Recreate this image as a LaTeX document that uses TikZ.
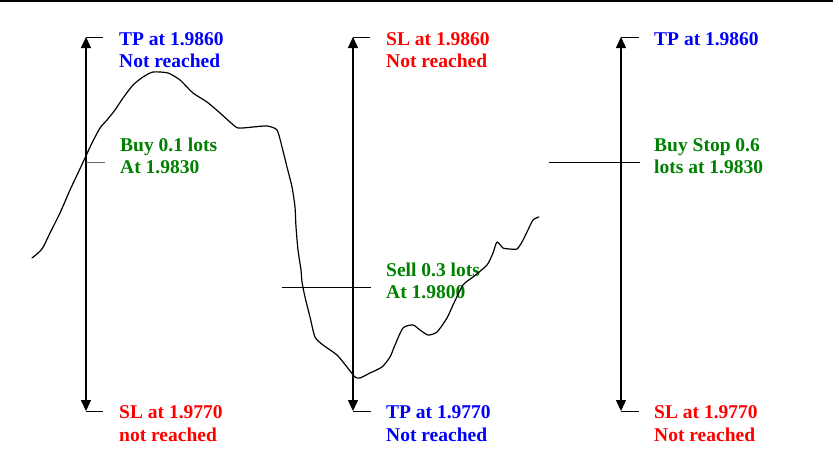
\documentclass[tikz,border=0pt]{standalone}
\usepackage{fontspec}
\setmainfont{Liberation Serif}
\usetikzlibrary{arrows.meta}
\definecolor{tblue}{RGB}{0,0,255}
\definecolor{tred}{RGB}{255,0,0}
\definecolor{tgreen}{RGB}{0,128,0}
\tikzset{
  lbl/.style={anchor=base west, inner sep=0pt, font=\fontsize{19.5pt}{22.5pt}\selectfont\bfseries},
  dblarrow/.style={line width=1.4pt, {Triangle[length=11pt,width=10pt]}-{Triangle[length=11pt,width=10pt]}},
  tick/.style={line width=1pt},
  level/.style={line width=1pt},
  price/.style={line width=1.2pt, line join=round, line cap=round},
}
\begin{document}
\begin{tikzpicture}[x=1pt,y=-1pt]
\useasboundingbox (0,0) rectangle (839,464);
\draw[line width=1.5pt] (0,0.75) -- (833,0.75);

% left arrow
\coordinate (a1t) at (86,37);
\coordinate (a1b) at (86,411);
\coordinate (a1m) at (86,162);
\draw[dblarrow] (a1t) -- (a1b);
\draw[tick] (a1t) -- ++(17,0);
\draw[tick] (a1b) -- ++(17,0);
\draw[level, black!60] (a1m) -- ++(19,0);
\node[lbl, tblue] (l1a) at (119,45) {TP at 1.9860};
\node[lbl, tblue] (l1b) at (119,67.5) {Not reached};
\node[lbl, tgreen] (l1c) at (120,151) {Buy 0.1 lots};
\node[lbl, tgreen] (l1d) at (120,173.5) {At 1.9830};
\node[lbl, tred] (l1e) at (119,418.5) {SL at 1.9770};
\node[lbl, tred] (l1f) at (119,441) {not reached};

% middle arrow
\coordinate (a2t) at (353,37);
\coordinate (a2b) at (353,411);
\coordinate (a2l) at (282,287);
\coordinate (a2r) at (371,287);
\draw[dblarrow] (a2t) -- (a2b);
\draw[tick] (a2t) -- ++(17,0);
\draw[tick] (a2b) -- ++(18,0);
\draw[level] (a2l) -- (a2r);
\node[lbl, tred] (l2a) at (386,45) {SL at 1.9860};
\node[lbl, tred] (l2b) at (386,67.5) {Not reached};
\node[lbl, tgreen] (l2c) at (386,276) {Sell 0.3 lots};
\node[lbl, tgreen] (l2d) at (386,298.5) {At 1.9800};
\node[lbl, tblue] (l2e) at (386,418.5) {TP at 1.9770};
\node[lbl, tblue] (l2f) at (386,441) {Not reached};

% right arrow
\coordinate (a3t) at (621,37);
\coordinate (a3b) at (621,411);
\coordinate (a3l) at (549,162);
\coordinate (a3r) at (640,162);
\draw[dblarrow] (a3t) -- (a3b);
\draw[tick] (a3t) -- ++(18,0);
\draw[tick] (a3b) -- ++(18,0);
\draw[level] (a3l) -- (a3r);
\node[lbl, tblue] (l3a) at (654,45) {TP at 1.9860};
\node[lbl, tgreen] (l3c) at (654,151) {Buy Stop 0.6};
\node[lbl, tgreen] (l3d) at (654,173.5) {lots at 1.9830};
\node[lbl, tred] (l3e) at (654,418.5) {SL at 1.9770};
\node[lbl, tred] (l3f) at (654,441) {Not reached};

% price curve
\draw[price] plot[smooth, tension=0.4] coordinates {
(32,258) (42,249) (50,233) (60,213) (70,190) (78,173) (85,158) (92,143)
(100,128) (107,120) (115,110) (123,98) (133,85) (143,77) (153,72) (168,73)
(180,80) (193,93) (207,102) (220,113) (230,122) (238,128) (253,127) (267,126)
(277,130) (282,147) (287,167) (292,187) (295,207) (296,227) (298,250)
(301,270) (302,282) (305,297) (310,317) (315,337) (323,345) (337,355)
(347,367) (355,377) (360,378) (370,373) (382,367) (390,357) (395,345)
(403,328) (413,325) (420,330) (428,335) (437,332) (447,318) (453,305)
(463,285) (473,277) (487,265) (493,253) (497,242) (503,248) (510,249)
(517,249) (522,242) (527,232) (533,220) (539,217)};
\end{tikzpicture}
\end{document}
